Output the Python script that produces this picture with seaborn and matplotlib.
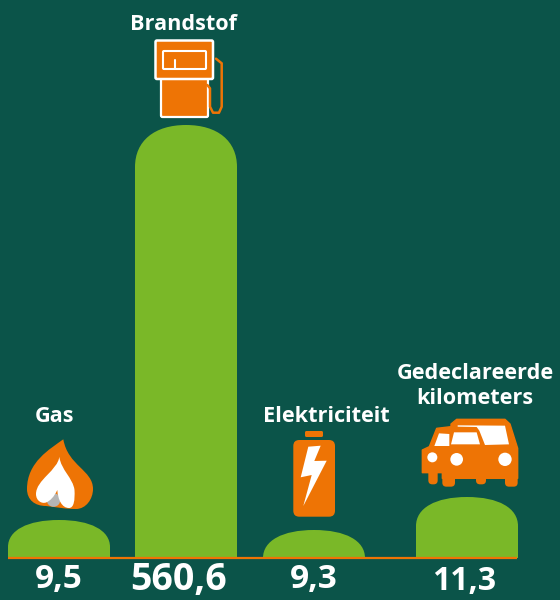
import matplotlib
matplotlib.use('Agg')
import matplotlib.pyplot as plt
from matplotlib.path import Path
from matplotlib.patches import PathPatch, Polygon, FancyBboxPatch, Circle
import pandas as pd
import seaborn as sns

# Chart data (bar heights are pictorial, not proportional to the values)
categories = ['Gas', 'Brandstof', 'Elektriciteit', 'Gedeclareerde\nkilometers']
value_labels = ['9,5', '560,6', '9,3', '11,3']
bar_heights = [38, 433, 28, 61]

BG = '#0B5449'
GREEN = '#7AB828'
ORANGE = '#EE7405'
WHITE = '#FFFFFF'

sns.set_theme(style='white')
plt.rcParams['font.family'] = ['Open Sans', 'DejaVu Sans']

df = pd.DataFrame({'cat': categories, 'height': bar_heights, 'centre': [59, 186, 314, 467]})

fig = plt.figure(figsize=(5.6, 6), dpi=100, facecolor=BG)
ax = fig.add_axes([0, 0, 1, 1], facecolor=BG)
sns.barplot(data=df, x='centre', y='height', native_scale=True, width=102 / 127, color=GREEN, saturation=1, ax=ax)
ax.set_xlim(0, 560)
ax.set_ylim(-42, 558)
ax.axis('off')

# Swap the square bars for domed ones
dome_heights = [27, 42, 28, 29]
for patch, dome in zip(list(ax.patches), dome_heights):
    x0, w, h = patch.get_x(), patch.get_width(), patch.get_height()
    d = min(dome, h)
    k = 0.62
    verts = [(x0, 0), (x0, h - d),
             (x0, h - d + k * d), (x0 + w * 0.5 - k * w * 0.5, h), (x0 + w / 2, h),
             (x0 + w * 0.5 + k * w * 0.5, h), (x0 + w, h - d + k * d), (x0 + w, h - d),
             (x0 + w, 0), (x0, 0)]
    codes = [Path.MOVETO, Path.LINETO, Path.CURVE4, Path.CURVE4, Path.CURVE4,
             Path.CURVE4, Path.CURVE4, Path.CURVE4, Path.LINETO, Path.CLOSEPOLY]
    patch.remove()
    ax.add_patch(PathPatch(Path(verts, codes), fc=GREEN, ec='none'))

ax.plot([8, 517], [0, 0], color=ORANGE, lw=1.6, solid_capstyle='butt')

# Overlay in picture pixels for the icons and the text
ov = fig.add_axes([0, 0, 1, 1], facecolor='none')
ov.set_xlim(0, 560)
ov.set_ylim(600, 0)
ov.axis('off')


def rbox(x0, y0, x1, y1, r, fc, ec='none', lw=0):
    ov.add_patch(FancyBboxPatch((x0 + r, y0 + r), x1 - x0 - 2 * r, y1 - y0 - 2 * r,
                                boxstyle=f'round,pad={r},rounding_size={r}', fc=fc, ec=ec, lw=lw))


def draw_flame():
    M, C, Z = Path.MOVETO, Path.CURVE4, Path.CLOSEPOLY
    outer = [(63.3, 439.3), (50, 449), (27, 462), (27, 489), (27, 500), (35, 506), (46, 506),
             (55, 507), (65, 509), (76, 509), (86, 509), (93, 499), (93, 489),
             (93, 470), (68, 466), (63.3, 439.3), (63.3, 439.3)]
    ov.add_patch(PathPatch(Path(outer, [M] + [C] * 15 + [Z]), fc=ORANGE, ec='none'))
    ov.add_patch(Circle((53.5, 500), 6.8, fc='#B5B5B5', ec='none'))
    white = [(59.3, 456.7), (58, 470), (36, 480), (36, 494), (36, 501), (42, 504), (46, 502.5),
             (50, 501), (54, 497), (57.3, 490), (58, 500), (62, 508), (69, 508),
             (74, 508), (75, 500), (74.5, 490), (73, 478), (61, 470), (59.3, 456.7), (59.3, 456.7)]
    ov.add_patch(PathPatch(Path(white, [M] + [C] * 18 + [Z]), fc=WHITE, ec='none'))


def draw_pump():
    hose = [(216, 58.7), (221.7, 63.3), (221.7, 106.7), (219, 112.7), (213, 112.7), (210, 106.7), (210, 88.3), (207.3, 85)]
    ov.plot(*zip(*hose), color=ORANGE, lw=1.8, solid_joinstyle='round')
    rbox(161, 78, 208, 117, 1.5, ORANGE, WHITE, 1.6)
    rbox(155.5, 40.5, 213, 79, 1.5, ORANGE, WHITE, 1.8)
    rbox(163, 51, 206, 69, 1, 'none', WHITE, 1.5)
    ov.plot([175, 175], [60, 69], color=WHITE, lw=1.5)


def draw_battery():
    rbox(305, 431, 323, 437, 1.5, ORANGE)
    rbox(293.3, 440, 335, 516.7, 6, ORANGE)
    bolt = [(308.3, 446.7), (320.7, 445.7), (314.3, 461), (326.7, 460.7), (303.3, 506), (311.7, 475), (300.7, 477.3)]
    ov.add_patch(Polygon(bolt, closed=True, fc=WHITE, ec='none'))


def draw_cars():
    # coordinates taken from a 3x crop starting at (390, 400)
    pts = lambda seq: [(390 + a / 3, 400 + b / 3) for a, b in seq]
    body = [(97, 150), (118, 140), (140, 85), (183, 80), (183, 72), (200, 58), (345, 58), (360, 72),
            (383, 145), (383, 235), (157, 235), (157, 218), (97, 218)]
    ov.add_patch(Polygon(pts(body), closed=True, fc=ORANGE, ec=ORANGE, lw=1, joinstyle='round'))
    for a0, a1, b1 in [(115, 143, 253), (157, 195, 260), (258, 288, 253), (345, 383, 260)]:
        rbox(390 + a0 / 3, 460, 390 + a1 / 3, 400 + b1 / 3, 4, ORANGE)
    windows = [[(147, 100), (178, 102), (178, 138), (133, 138)],
               [(192, 97), (260, 97), (270, 133), (183, 133)],
               [(203, 76), (345, 77), (357, 133), (285, 135), (268, 92), (260, 81), (203, 80)]]
    for w in windows:
        ov.add_patch(Polygon(pts(w), closed=True, fc=WHITE, ec='none'))
    for a, b, r in [(127, 172, 15), (200, 178, 19), (345, 178, 20)]:
        cx, cy = pts([(a, b)])[0]
        ov.add_patch(Circle((cx, cy), r / 3, fc=WHITE, ec='none'))


draw_flame()
draw_pump()
draw_battery()
draw_cars()

# Category names and values
name_pos = [(55, 416), (183, 24), (326, 416), (475, 386)]
value_pos = [(59, 580), (179, 580), (314, 580), (464, 582)]
value_size = [24, 27, 24, 23]
for name, (x, y) in zip(categories, name_pos):
    ov.text(x, y, name, color=WHITE, fontsize=15.6, fontweight='bold', ha='center', va='center', linespacing=1.3)
for val, (x, y), size in zip(value_labels, value_pos, value_size):
    ov.text(x, y, val, color=WHITE, fontsize=size, fontweight='bold', ha='center', va='center')

fig.savefig('out.png', dpi=100, facecolor=BG)
